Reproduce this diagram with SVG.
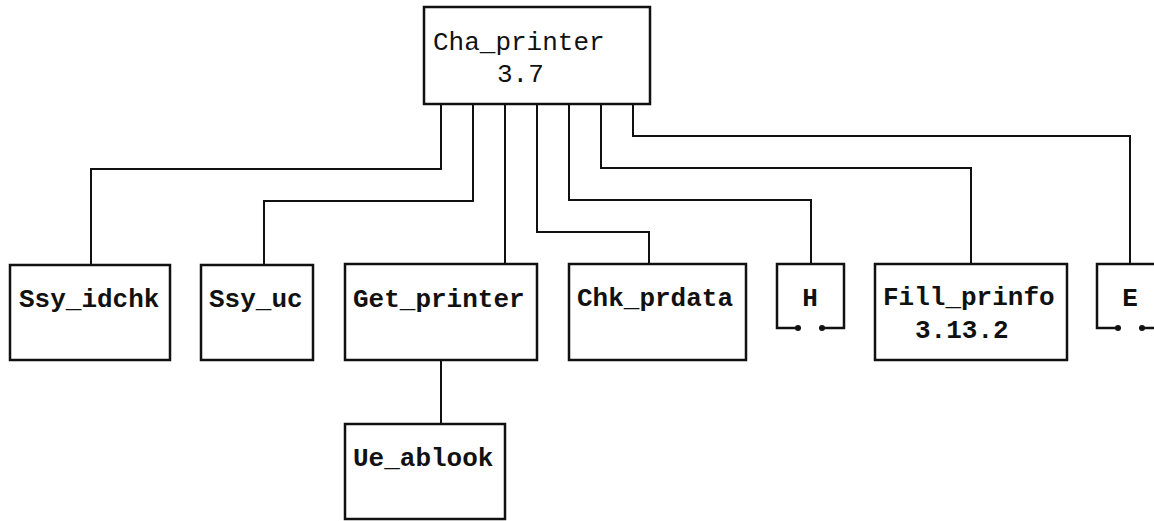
<svg xmlns="http://www.w3.org/2000/svg" width="1154" height="521" viewBox="0 0 1154 521">
<style>
.box{fill:#fff;stroke:#111;stroke-width:2.5}
.open{fill:none;stroke:#111;stroke-width:2.5}
.t{font-family:"Liberation Mono","Courier New",monospace;font-size:26px;font-weight:bold;fill:#111}
.tn{font-family:"Liberation Mono","Courier New",monospace;font-size:26px;fill:#111}
.c{fill:none;stroke:#111;stroke-width:2}
</style>
<rect width="1154" height="521" fill="#fff"/>
<g id="connectors">
<polyline class="c" points="441,104 441,169 91,169 91,265"/>
<polyline class="c" points="473,104 473,201 264,201 264,265"/>
<polyline class="c" points="505,104 505,264"/>
<polyline class="c" points="537,104 537,232 649,232 649,264"/>
<polyline class="c" points="569,104 569,200 811,200 811,264"/>
<polyline class="c" points="601,104 601,168 971,168 971,264"/>
<polyline class="c" points="633,104 633,136 1130,136 1130,264"/>
<polyline class="c" points="441,360 441,424"/>
</g>
<g id="cha_printer">
<rect class="box" x="424" y="7" width="226" height="97"/>
<text class="tn" x="433" y="50">Cha_printer</text>
<text class="tn" x="497" y="82">3.7</text>
</g>
<g id="ssy_idchk">
<rect class="box" x="10" y="265" width="160" height="95"/>
<text class="t" x="19" y="307">Ssy_idchk</text>
</g>
<g id="ssy_uc">
<rect class="box" x="201" y="265" width="112" height="95"/>
<text class="t" x="209" y="307">Ssy_uc</text>
</g>
<g id="get_printer">
<rect class="box" x="345" y="264" width="192" height="96"/>
<text class="t" x="353" y="307">Get_printer</text>
</g>
<g id="chk_prdata">
<rect class="box" x="569" y="264" width="177" height="96"/>
<text class="t" x="577" y="306">Chk_prdata</text>
</g>
<g id="h">
<path class="open" d="M798,328 H777 V264 H844 V328 H822"/>
<circle cx="798" cy="328" r="3" fill="#111"/>
<circle cx="822" cy="328" r="3" fill="#111"/>
<text class="t" x="810" y="306" text-anchor="middle">H</text>
</g>
<g id="fill_prinfo">
<rect class="box" x="875" y="264" width="192" height="96"/>
<text class="t" x="883" y="305">Fill_prinfo</text>
<text class="t" x="915" y="338">3.13.2</text>
</g>
<g id="e">
<path class="open" d="M1118,328 H1097 V264 H1164 V328 H1142"/>
<circle cx="1118" cy="328" r="3" fill="#111"/>
<circle cx="1142" cy="328" r="3" fill="#111"/>
<text class="t" x="1130" y="306" text-anchor="middle">E</text>
</g>
<g id="ue_ablook">
<rect class="box" x="345" y="424" width="160" height="95"/>
<text class="t" x="353" y="466">Ue_ablook</text>
</g>
</svg>
